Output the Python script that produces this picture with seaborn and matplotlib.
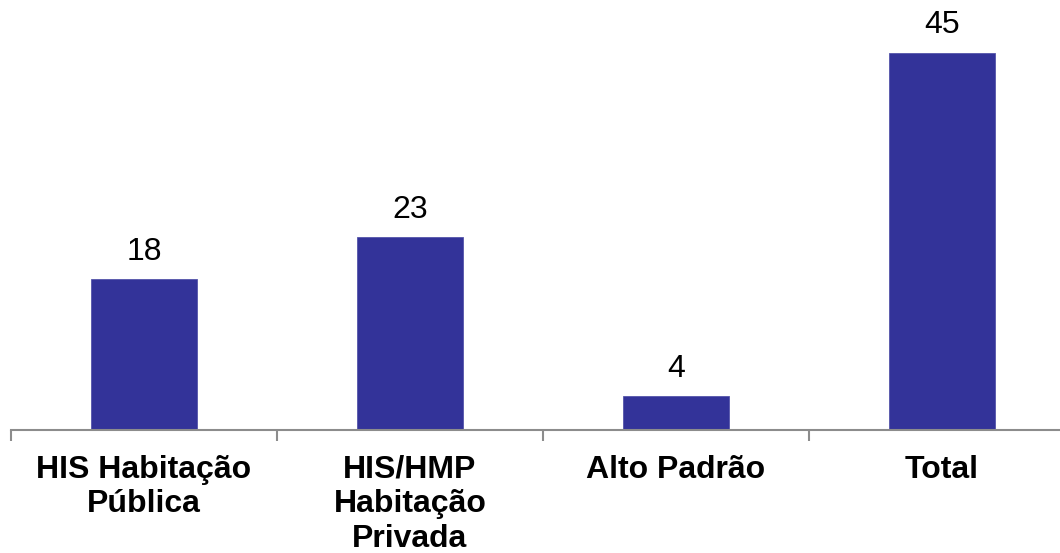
import matplotlib
matplotlib.use("Agg")
import matplotlib.pyplot as plt
import seaborn as sns
import pandas as pd
from matplotlib.ticker import FixedLocator, NullFormatter

categories = ["HIS Habitação\nPública", "HIS/HMP\nHabitação\nPrivada", "Alto Padrão", "Total"]
values = [18, 23, 4, 45]

sns.set_theme(style="white")
plt.rcParams["font.family"] = ["Liberation Sans", "DejaVu Sans"]

df = pd.DataFrame({"categoria": categories, "valor": values})

fig = plt.figure(figsize=(10.6, 5.53), dpi=100)
W, H = 1060, 553
ax = fig.add_axes([11 / W, 123 / H, 1064 / W, 419 / H])

sns.barplot(data=df, x="categoria", y="valor", color="#333399", width=0.395,
            saturation=1, ax=ax, edgecolor="#5555aa", linewidth=0.6)

ax.set_xlim(-0.5, 3.5)
ax.set_ylim(0, 50)
ax.set_xlabel("")
ax.set_ylabel("")
ax.set_yticks([])

for s in ["top", "right", "left"]:
    ax.spines[s].set_visible(False)
ax.spines["bottom"].set_color("#8c8c8c")
ax.spines["bottom"].set_linewidth(1.5)

# category labels centred under bars, tick marks at category boundaries
ax.set_xticks(range(len(categories)))
ax.set_xticklabels(categories, fontsize=23, fontweight="bold", color="black",
                   linespacing=1.19, va="top")
ax.tick_params(axis="x", which="major", length=0, pad=18)
ax.xaxis.set_minor_locator(FixedLocator([-0.5, 0.5, 1.5, 2.5, 3.5]))
ax.xaxis.set_minor_formatter(NullFormatter())
ax.tick_params(axis="x", which="minor", length=8, width=1.5, color="#8c8c8c",
               direction="out", bottom=True)

for i, v in enumerate(values):
    ax.text(i, v + 1.5, str(v), ha="center", va="bottom", fontsize=23, color="black")

fig.savefig("out.png", dpi=100)
